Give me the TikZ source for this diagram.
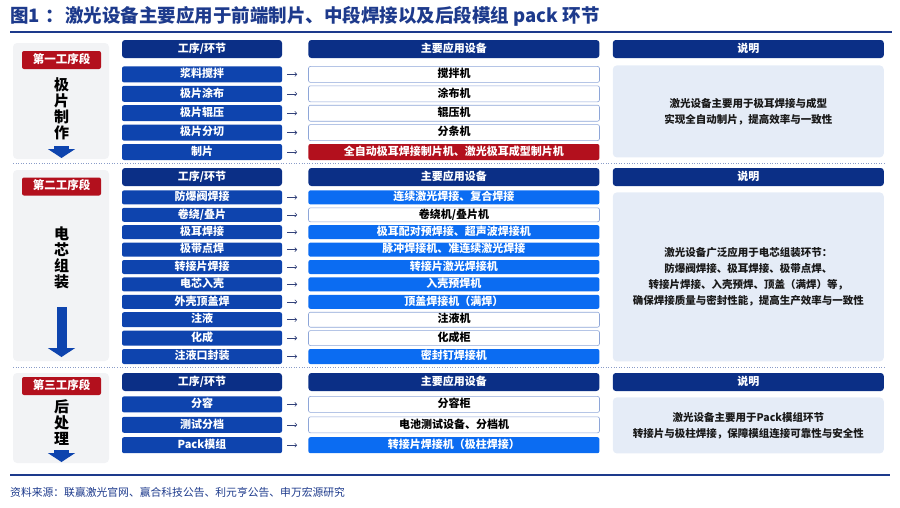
\documentclass[tikz,border=0pt]{standalone}
\usepackage{fontspec}
\setmainfont{Noto Sans CJK SC}
\usetikzlibrary{positioning,arrows.meta}

\definecolor{navy}{HTML}{0B2F86}
\definecolor{rowblue}{HTML}{0E44AE}
\definecolor{brightblue}{HTML}{0B6CF2}
\definecolor{darkred}{HTML}{B3101D}
\definecolor{titleblue}{HTML}{1D3A8C}
\definecolor{boxline}{HTML}{8EA6D8}
\definecolor{notefill}{HTML}{E5ECF7}
\definecolor{panelgrey}{HTML}{F2F3F5}
\definecolor{dotline}{HTML}{8A9CC8}
\definecolor{linkgrey}{HTML}{33427A}

\begin{document}
\begin{tikzpicture}[
    x = 1pt, y = -1pt,
    cell/.style = {rounded corners=2pt, minimum height=16pt, inner sep=0pt,
      text height=8.5pt, text depth=2pt, font=\bfseries\fontsize{11}{13}\selectfont},
    head/.style = {cell, fill=navy, text=white, minimum height=18pt, rounded corners=3pt},
    proc/.style = {cell, fill=rowblue, text=white, minimum width=160pt},
    equip/.style = {cell, fill=white, draw=boxline, line width=0.6pt, minimum width=291pt},
    hot/.style = {cell, fill=brightblue, text=white, minimum width=291pt},
    redequip/.style = {cell, fill=darkred, text=white, minimum width=291pt},
    note/.style = {fill=notefill, rounded corners=4pt, minimum width=271pt, inner sep=0pt,
      align=center, text=black!90, font=\bfseries\fontsize{10.5}{16}\selectfont},
    panel/.style = {fill=panelgrey, rounded corners=4pt, minimum width=96pt},
    stagelabel/.style = {cell, fill=darkred, text=white, minimum width=79pt,
      minimum height=18pt, font=\bfseries\fontsize{11.5}{13}\selectfont},
    stagename/.style = {align=center, inner sep=0pt, font=\bfseries\fontsize{15}{16}\selectfont},
    downarrow/.style = {rowblue, line width=10pt, -{Triangle[width=27pt,length=9pt]}},
    every edge/.style = {draw, linkgrey, line width=0.6pt,
      -{Straight Barb[length=2pt,width=4pt]}, shorten <=5pt, shorten >=11pt},
    sep/.style = {dotline, dotted, line width=0.6pt},
    rule/.style = {titleblue, line width=1.2pt}]
  \useasboundingbox (0,0) rectangle (900,507);

  % title and rules
  \node (title) [anchor=west, inner sep=0pt, text=titleblue,
    font=\bfseries\fontsize{18.5}{20}\selectfont] at (10,16.5)
    {图1\hspace{6pt}：\hspace{1pt}激光设备主要应用于前端制片、中段焊接以及后段模组 pack 环节};
  \draw[rule] (10,32) -- (892,32);

  % stage panels
  \node (panel1) at (61,101)   [panel, minimum height=116pt] {};
  \node (panel2) at (61,265.5) [panel, minimum height=191pt] {};
  \node (panel3) at (61,418)   [panel, minimum height=90pt]  {};
  \node (lab1) at (61.5,60)    [stagelabel] {第一工序段};
  \node (lab2) at (61.5,186.5) [stagelabel] {第二工序段};
  \node (lab3) at (61.5,386)   [stagelabel] {第三工序段};
  \node (name1) at (61.5,108.5) [stagename] {极\\片\\制\\作};
  \node (name2) at (61.5,257.5) [stagename] {电\\芯\\组\\装};
  \node (name3) at (61.5,422.5) [stagename] {后\\处\\理};
  \coordinate (top1) at (61.5,146);
  \coordinate (tip1) at (61.5,158);
  \coordinate (top2) at (61.5,307);
  \coordinate (tip2) at (61.5,357);
  \coordinate (top3) at (61.5,450);
  \coordinate (tip3) at (61.5,462);
  \draw[downarrow, line width=15pt] (top1) -- (tip1);
  \draw[downarrow] (top2) -- (tip2);
  \draw[downarrow, line width=15pt] (top3) -- (tip3);

  % first stage
  \node (proc1)  at (202,49) [head, minimum width=160pt] {工序/环节};
  \node (equip1) [head, minimum width=291pt, right=26pt of proc1] {主要应用设备};
  \node (noteh1) [head, minimum width=271pt, right=13pt of equip1] {说明};
  \node (p11) [proc, below=8pt of proc1] {浆料搅拌};
  \node (p12) [proc, below=3pt of p11] {极片涂布};
  \node (p13) [proc, below=3pt of p12] {极片辊压};
  \node (p14) [proc, below=3pt of p13] {极片分切};
  \node (p15) [proc, below=3pt of p14] {制片};
  \node (e11) [equip, right=26pt of p11] {搅拌机};
  \node (e12) [equip, right=26pt of p12] {涂布机};
  \node (e13) [equip, right=26pt of p13] {辊压机};
  \node (e14) [equip, right=26pt of p14] {分条机};
  \node (e15) [redequip, right=26pt of p15] {全自动极耳焊接制片机、激光极耳成型制片机};
  \node (note1) [note, minimum height=92pt, below=7pt of noteh1]
    {激光设备主要用于极耳焊接与成型\\实现全自动制片，提高效率与一致性};
  \draw (p11) edge (e11) (p12) edge (e12) (p13) edge (e13)
        (p14) edge (e14) (p15) edge (e15);
  \draw[sep] (13,163) -- (885,163);

  % second stage
  \node (proc2)  at (202,177) [head, minimum width=160pt] {工序/环节};
  \node (equip2) [head, minimum width=291pt, right=26pt of proc2] {主要应用设备};
  \node (noteh2) [head, minimum width=271pt, right=13pt of equip2] {说明};
  \node (p21)  [proc, minimum height=14pt, below=4pt of proc2] {防爆阀焊接};
  \node (p22)  [proc, minimum height=14pt, below=3pt of p21] {卷绕/叠片};
  \node (p23)  [proc, minimum height=14pt, below=3pt of p22] {极耳焊接};
  \node (p24)  [proc, minimum height=14pt, below=3pt of p23] {极带点焊};
  \node (p25)  [proc, minimum height=14pt, below=3pt of p24] {转接片焊接};
  \node (p26)  [proc, minimum height=14pt, below=3pt of p25] {电芯入壳};
  \node (p27)  [proc, minimum height=14pt, below=3pt of p26] {外壳顶盖焊};
  \node (p28)  [proc, minimum height=15pt, below=3pt of p27] {注液};
  \node (p29)  [proc, minimum height=15pt, below=3pt of p28] {化成};
  \node (p210) [proc, minimum height=15pt, below=3pt of p29] {注液口封装};
  \node (e21)  [hot,   minimum height=14pt, right=26pt of p21] {连续激光焊接、复合焊接};
  \node (e22)  [equip, minimum height=14pt, right=26pt of p22] {卷绕机/叠片机};
  \node (e23)  [hot,   minimum height=14pt, right=26pt of p23] {极耳配对预焊接、超声波焊接机};
  \node (e24)  [hot,   minimum height=14pt, right=26pt of p24] {脉冲焊接机、准连续激光焊接};
  \node (e25)  [hot,   minimum height=14pt, right=26pt of p25] {转接片激光焊接机};
  \node (e26)  [hot,   minimum height=14pt, right=26pt of p26] {入壳预焊机};
  \node (e27)  [hot,   minimum height=14pt, right=26pt of p27] {顶盖焊接机（满焊）};
  \node (e28)  [equip, minimum height=15pt, right=26pt of p28] {注液机};
  \node (e29)  [equip, minimum height=15pt, right=26pt of p29] {化成柜};
  \node (e210) [hot,   minimum height=15pt, right=26pt of p210] {密封钉焊接机};
  \node (note2) [note, minimum height=169pt, below=6pt of noteh2]
    {激光设备广泛应用于电芯组装环节：\\防爆阀焊接、极耳焊接、极带点焊、\\
     转接片焊接、入壳预焊、顶盖（满焊）等，\\确保焊接质量与密封性能，提高生产效率与一致性};
  \draw (p21) edge (e21) (p22) edge (e22) (p23) edge (e23) (p24) edge (e24)
        (p25) edge (e25) (p26) edge (e26) (p27) edge (e27) (p28) edge (e28)
        (p29) edge (e29) (p210) edge (e210);
  \draw[sep] (13,367.5) -- (885,367.5);

  % third stage
  \node (proc3)  at (202,382) [head, minimum width=160pt] {工序/环节};
  \node (equip3) [head, minimum width=291pt, right=26pt of proc3] {主要应用设备};
  \node (noteh3) [head, minimum width=271pt, right=13pt of equip3] {说明};
  \node (p31) [proc, below=5pt of proc3] {分容};
  \node (p32) [proc, below=4pt of p31] {测试分档};
  \node (p33) [proc, below=4pt of p32] {Pack模组};
  \node (e31) [equip, right=26pt of p31] {分容柜};
  \node (e32) [equip, right=26pt of p32] {电池测试设备、分档机};
  \node (e33) [hot,   right=26pt of p33] {转接片焊接机（极柱焊接）};
  \node (note3) [note, minimum height=56pt, below=6pt of noteh3]
    {激光设备主要用于Pack模组环节\\转接片与极柱焊接，保障模组连接可靠性与安全性};
  \draw (p31) edge (e31) (p32) edge (e32) (p33) edge (e33);

  % source
  \draw[rule] (10,475) -- (890,475);
  \node (source) [anchor=west, inner sep=0pt, text=titleblue,
    font=\fontsize{10.8}{12}\selectfont] at (10,492)
    {资料来源：联赢激光官网、赢合科技公告、利元亨公告、申万宏源研究};
\end{tikzpicture}
\end{document}
